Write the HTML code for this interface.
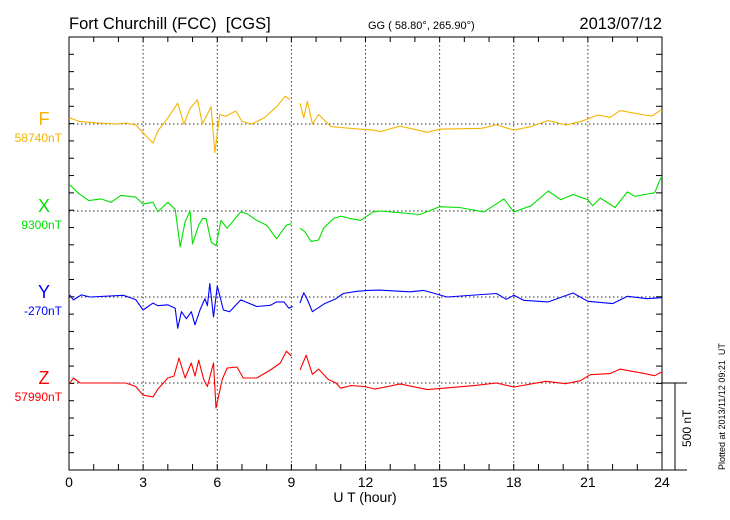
<!DOCTYPE html>
<html><head><meta charset="utf-8">
<style>
html,body{margin:0;padding:0;background:#fff;}
#wrap{position:relative;width:730px;height:520px;overflow:hidden;font-family:"Liberation Sans",sans-serif;}
svg text{font-family:"Liberation Sans",sans-serif;}
</style></head>
<body>
<div id="wrap">
<svg id="chart" width="730" height="520" viewBox="0 0 730 520">
<text x="69" y="29" font-size="16.5" fill="#000">Fort Churchill (FCC)&#160;&#160;[CGS]</text>
<text x="368" y="29" font-size="11" fill="#000">GG ( 58.80°, 265.90°)</text>
<text x="662" y="29" font-size="16.5" text-anchor="end" fill="#000">2013/07/12</text>
<text x="365" y="502" font-size="14" text-anchor="middle" fill="#000">U T (hour)</text>
<text transform="translate(725,470) rotate(-90)" font-size="9" fill="#000">Plotted at 2013/11/12 09:21&#160;&#160;UT</text>
<text transform="translate(691,447) rotate(-90)" font-size="12" fill="#000">500 nT</text>
<g id="grid"></g>
<g id="axes"></g>
<g id="series"></g>
<g id="labels"></g>
</svg>
</div>
<script>
const xTicks = [0,3,6,9,12,15,18,21,24];
const seriesNames = ["F","X","Y","Z"];
const baseLabels = ["58740nT","9300nT","-270nT","57990nT"];
const seriesColors = ["#f5b400","#00e000","#0000ff","#ff0000"];
// null = data gap
const fT = [0,0.04,0.4,1.2,1.9,2.3,2.7,3.0,3.4,3.6,4.0,4.4,4.65,4.9,5.2,5.4,5.75,5.9,6.1,6.35,6.75,7.0,7.4,7.9,8.4,8.75,8.95,9.1,9.35,9.5,9.65,9.85,10.1,10.6,11.0,11.8,12.3,12.6,13.4,14.5,15.0,16.7,17.3,18.0,18.7,19.4,20.1,20.7,21.4,21.9,22.3,23.3,23.6,23.95,24];
const fV = [30,35,15,5,0,5,-5,-50,-110,-40,35,120,0,90,140,0,100,-165,55,45,75,15,0,35,100,160,140,null,120,35,130,0,55,-15,-20,-30,-35,-44,-12,-48,-30,-25,-5,-35,-15,20,-5,13,52,38,77,52,46,80,75];
const xT = [0,0.04,0.4,0.8,1.3,1.7,2.1,2.7,3.0,3.4,3.6,4.0,4.3,4.5,4.7,4.9,5.0,5.25,5.4,5.55,5.75,5.95,6.15,6.4,6.95,7.2,7.6,8.0,8.4,8.8,9.0,9.1,9.35,9.55,9.8,10.1,10.3,10.7,11.0,11.4,11.8,12.3,12.6,14.2,15.0,15.8,16.8,17.6,18.0,18.7,19.4,19.9,20.4,21.0,21.2,21.5,22.1,22.6,22.9,23.3,23.7,23.95,24];
const xV = [150,150,100,60,70,50,90,80,40,50,-5,50,10,-207,-63,0,-190,-82,-44,-44,-178,-200,-54,-100,-5,-15,-54,-82,-160,-82,-73,null,-100,-120,-175,-167,-100,-44,-30,-44,-54,-5,0,-20,25,20,-5,70,-5,30,115,65,95,65,30,75,20,110,85,95,105,190,195];
const yT = [0,0.04,0.18,0.5,0.85,2.2,2.7,3.0,3.4,3.6,4.0,4.3,4.4,4.55,4.75,4.95,5.1,5.3,5.5,5.6,5.7,5.85,6.0,6.25,6.5,6.95,7.6,8.15,8.4,8.7,8.9,9.05,9.2,9.35,9.5,9.6,9.85,10.35,10.8,11.1,11.65,12.1,12.6,13.8,14.35,15.3,17.3,17.7,18.0,18.4,19.4,20.4,21.0,22.0,22.6,23.4,23.95,24];
const yV = [10,10,-17,12,0,10,-15,-75,-35,-50,-45,-65,-180,-85,-125,-85,-160,-75,-10,-50,78,-115,62,-75,-85,-17,-55,-48,-28,-28,-65,-55,null,-35,24,0,-85,-38,-10,20,33,38,40,30,38,0,20,-13,10,-19,-28,23,-25,-38,4,-10,-4,-4];
const zT = [0,0.04,0.18,0.45,1.25,2.3,2.7,3.0,3.4,3.6,4.0,4.25,4.45,4.7,4.95,5.1,5.25,5.45,5.6,5.85,5.95,6.2,6.4,6.8,7.05,7.6,8.15,8.55,8.8,9.0,9.1,9.35,9.6,9.85,10.1,10.5,10.8,11.0,11.4,11.95,12.4,13.4,14.5,16.4,17.3,18.0,19.3,20.1,20.7,21.1,21.9,22.3,23.3,23.7,23.95,24];
const zV = [0,0,29,0,0,0,-20,-70,-80,-35,29,40,144,29,115,40,132,20,-20,115,-144,20,86,92,29,29,75,115,183,155,null,75,160,50,80,20,0,-30,-15,-20,-35,-5,-38,-15,0,-23,10,-4,13,48,54,80,54,42,61,55];

const L=69,R=662,T=37,B=470;
const baselines=[124,211,297,383];
const pxPerNT=17.35/100;
const NS="http://www.w3.org/2000/svg";
function xs(h){return L+(h/24)*(R-L);}
function ys(i,v){return baselines[i]-v*pxPerNT;}
function mk(tag,attrs,parent){const e=document.createElementNS(NS,tag);for(const k in attrs)e.setAttribute(k,attrs[k]);parent.appendChild(e);return e;}
const grid=document.getElementById('grid'),axes=document.getElementById('axes'),ser=document.getElementById('series'),lab=document.getElementById('labels');
xTicks.forEach(h=>{if(h>0&&h<24){const l=mk('line',{x1:xs(h),x2:xs(h),y1:T,y2:B,stroke:'#333','stroke-width':1,'stroke-dasharray':'1.5,2.5'},grid);

}});
baselines.forEach(b=>{const l=mk('line',{x1:L,x2:R,y1:b,y2:b,stroke:'#333','stroke-width':1,'stroke-dasharray':'1.5,2.5'},grid);

});
const fr=mk('path',{d:`M${L},${T}H${R}V${B}H${L}Z M${R},${B}H687 M${R},383H687 M675,383V${B}`,fill:'none',stroke:'#000','stroke-width':1},axes);


for(let h=0;h<=24;h++){const x=xs(h);
 const t1=mk('line',{x1:x,x2:x,y1:B,y2:B-6,stroke:'#000','stroke-width':1},axes);
 
 
 const t2=mk('line',{x1:x,x2:x,y1:T,y2:T+5,stroke:'#000','stroke-width':1},axes);
 
 }
xTicks.forEach(h=>{const t=mk('text',{x:xs(h),y:487,'font-size':14,'text-anchor':'middle',fill:'#000'},axes);t.textContent=h;

});
for(let k=0;k<=25;k++){const y=T+k*(B-T)/25;
 const a=mk('line',{x1:L,x2:L+5,y1:y,y2:y,stroke:'#000','stroke-width':1},axes);
 
 
 const b=mk('line',{x1:R,x2:R-6,y1:y,y2:y,stroke:'#000','stroke-width':1},axes);
 
 }
const allT=[fT,xT,yT,zT],allV=[fV,xV,yV,zV];
allT.forEach((ts,i)=>{let d='',pen=false;ts.forEach((t,j)=>{const v=allV[i][j];if(v===null){pen=false;return;}d+=(pen?'L':'M')+xs(t).toFixed(1)+','+ys(i,v).toFixed(1);pen=true;});
 const p=mk('path',{d:d,fill:'none',stroke:seriesColors[i],'stroke-width':1.1,'stroke-linejoin':'round'},ser);
 
 
 const n=mk('text',{x:44,y:baselines[i]+1,'font-size':18,'text-anchor':'middle',fill:seriesColors[i]},lab);n.textContent=seriesNames[i];
 
 
 const bl=mk('text',{x:62,y:baselines[i]+18,'font-size':12,'text-anchor':'end',fill:seriesColors[i]},lab);bl.textContent=baseLabels[i];
 
 
});
</script>
</body></html>
